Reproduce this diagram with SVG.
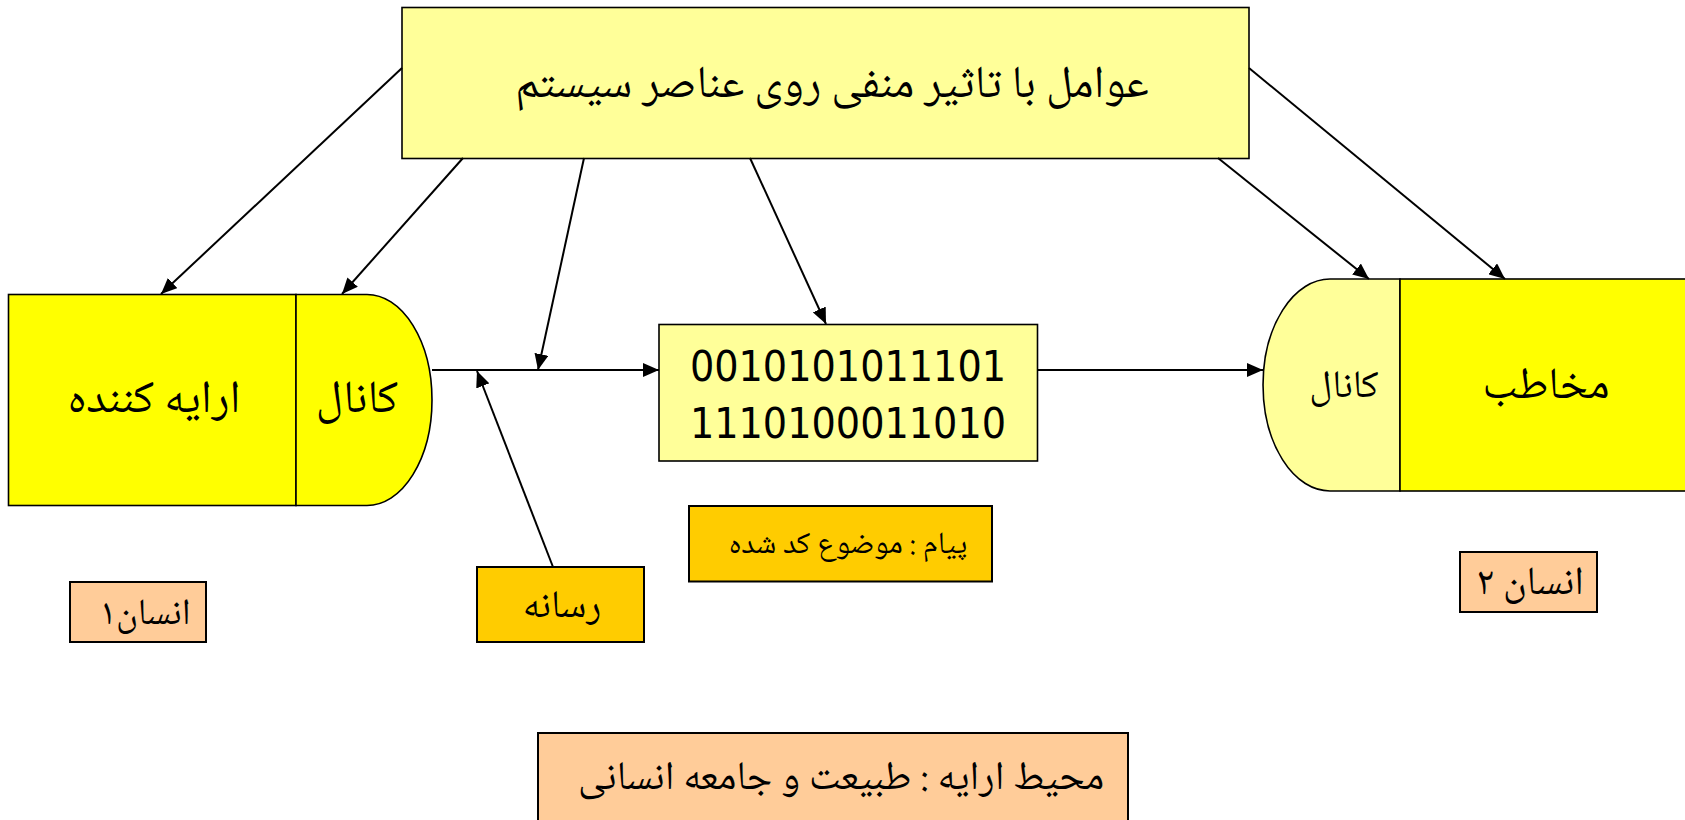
<svg xmlns="http://www.w3.org/2000/svg" width="1685" height="820" viewBox="0 0 1685 820">
<style>
  .box { stroke: #000; stroke-width: 1.6; }
  .lbox { stroke: #000; stroke-width: 2; }
  .y1 { fill: #FFFF00; }
  .y2 { fill: #FFFF99; }
  .or { fill: #FFCC00; }
  .pe { fill: #FFCC99; }
  .fa { font-family: "Noto Naskh Arabic", "Noto Sans Arabic", "DejaVu Sans", sans-serif; fill: #000; text-anchor: middle; direction: rtl; }
  .bin { font-family: "DejaVu Sans Condensed", "DejaVu Sans", "Liberation Sans", sans-serif; fill: #000; text-anchor: middle; font-size: 42.5px; }
  .conn line { stroke: #000; stroke-width: 2; fill: none; marker-end: url(#ah); }
</style>
<defs>
  <marker id="ah" markerUnits="userSpaceOnUse" markerWidth="17" markerHeight="14" refX="16" refY="7" orient="auto">
    <path d="M0,0 L16,7 L0,14 z" fill="#000"/>
  </marker>
</defs>
<rect width="1685" height="820" fill="#fff"/>

<g id="top-factors">
  <rect class="box y2" x="402" y="7.5" width="847" height="151"/>
  <text class="fa" x="832" y="97" font-size="45.5">عوامل با تاثیر منفی روی عناصر سیستم</text>
</g>

<g id="presenter">
  <rect class="box y1" x="8.5" y="294.5" width="287.5" height="211"/>
  <text class="fa" x="154" y="412" font-size="46">ارایه کننده</text>
</g>

<g id="channel-left">
  <path class="box y1" d="M296,294.5 H367 A65,105.5 0 0 1 367,505.5 H296 Z"/>
  <text class="fa" x="357" y="412" font-size="46">کانال</text>
</g>

<g id="message-binary">
  <rect class="box y2" x="659" y="324.5" width="378.5" height="136.5"/>
  <text class="bin" x="848" y="381">0010101011101</text>
  <text class="bin" x="848" y="438">1110100011010</text>
</g>

<g id="channel-right">
  <path class="box y2" d="M1400,279 H1330 A67,106 0 0 0 1330,491 H1400 Z"/>
  <text class="fa" x="1344" y="397" font-size="38.7">کانال</text>
</g>

<g id="audience">
  <rect class="box y1" x="1400" y="279" width="300" height="212"/>
  <text class="fa" x="1546" y="398" font-size="44.5">مخاطب</text>
</g>

<g id="message-label">
  <rect class="lbox or" x="689" y="506" width="303" height="75.5"/>
  <text class="fa" x="848" y="553" font-size="30.8">پیام : موضوع کد شده</text>
</g>

<g id="medium">
  <rect class="lbox or" x="477" y="567" width="167" height="75"/>
  <text class="fa" x="562" y="617" font-size="38.9">رسانه</text>
</g>

<g id="human1">
  <rect class="lbox pe" x="70" y="582" width="136" height="60"/>
  <text class="fa" x="145" y="624" font-size="37">انسان۱</text>
</g>

<g id="human2">
  <rect class="lbox pe" x="1460" y="552" width="137" height="60"/>
  <text class="fa" x="1530" y="594" font-size="40">انسان ۲</text>
</g>

<g id="environment">
  <rect class="lbox pe" x="538" y="733" width="590" height="100"/>
  <text class="fa" x="841" y="789" font-size="40.3">محیط ارایه : طبیعت و جامعه انسانی</text>
</g>

<g id="connectors" class="conn">
  <line x1="402" y1="68" x2="161" y2="294"/>
  <line x1="463" y1="158" x2="342" y2="294"/>
  <line x1="584" y1="158" x2="538" y2="370"/>
  <line x1="750" y1="158" x2="826" y2="324"/>
  <line x1="1218" y1="158" x2="1369" y2="279"/>
  <line x1="1249" y1="68" x2="1505" y2="279"/>
  <line x1="432" y1="370" x2="659" y2="370"/>
  <line x1="553" y1="567" x2="477" y2="371"/>
  <line x1="1038" y1="370" x2="1263" y2="370"/>
</g>
</svg>
